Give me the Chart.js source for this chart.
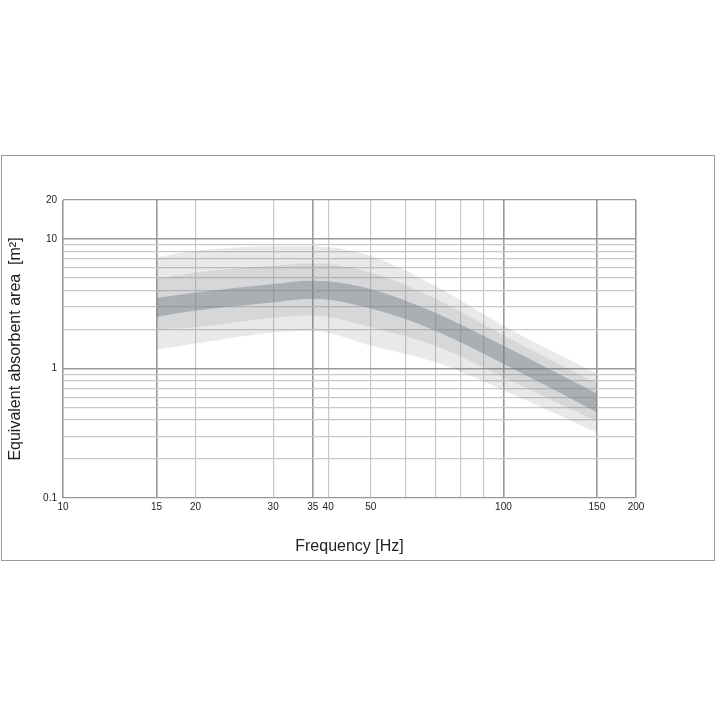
<!DOCTYPE html>
<html><head><meta charset="utf-8">
<script src="https://cdn.jsdelivr.net/npm/chart.js@4"></script>
<style>
body{margin:0;background:#fff;}
#box{position:absolute;left:1px;top:155px;width:712px;height:404px;border:1px solid #9a9a9a;}
</style></head><body>
<div id="box"><canvas id="c" width="712" height="404"></canvas></div>
<script>
// frequencies where the band is sampled (positions as drawn on the original)
const freqs = [16.3, 20, 30, 36.9, 50, 70, 100, 163];
const outerTop = [7.2, 8.1, 8.8, 8.8, 7.4, 4.35, 2.14, 0.91];
const outerBot = [1.4, 1.56, 1.9, 1.96, 1.5, 1.12, 0.68, 0.32];
const midTop = [4.9, 5.5, 6.2, 6.5, 5.5, 3.45, 1.8, 0.77];
const midBot = [2.0, 2.08, 2.47, 2.56, 2.08, 1.5, 0.86, 0.39];
const darkTop = [3.5, 3.86, 4.5, 4.76, 4.1, 2.7, 1.5, 0.64];
const darkBot = [2.5, 2.8, 3.23, 3.45, 2.9, 1.96, 1.09, 0.46];

const xTickValues = [10, 16.3, 20, 30, 36.9, 40, 50, 60, 70, 80, 90, 100, 163, 200];
const xTickLabels = ['10', '15', '20', '30', '35', '40', '50', '', '', '', '', '100', '150', '200'];
const yTickValues = [0.1, 0.2, 0.3, 0.4, 0.5, 0.6, 0.7, 0.8, 0.9, 1, 2, 3, 4, 5, 6, 7, 8, 9, 10, 20];
const yTickLabels = {0.1: '0.1', 1: '1', 10: '10', 20: '20'};

function pts(arr) { return arr.map((v, i) => ({x: freqs[i], y: v})); }
function band(data, fill, color, order) {
  return {data: pts(data), fill: fill, backgroundColor: color, borderWidth: 0,
    pointRadius: 0, cubicInterpolationMode: 'monotone', order: order};
}

const majorX = [10, 16.3, 36.9, 100, 163, 200];
new Chart(document.getElementById('c'), {
  type: 'line',
  data: {
    datasets: [
      band(outerTop, '+1', 'rgba(120,125,130,0.17)', 3),
      band(outerBot, false, 'transparent', 3),
      band(midTop, '+1', 'rgba(120,125,130,0.16)', 2),
      band(midBot, false, 'transparent', 2),
      band(darkTop, '+1', 'rgba(120,125,130,0.45)', 1),
      band(darkBot, false, 'transparent', 1)
    ]
  },
  options: {
    responsive: false, animation: false,
    layout: {padding: {top: 44, right: 78, left: 0, bottom: 0}},
    plugins: {legend: {display: false}, tooltip: {enabled: false}},
    scales: {
      x: {
        type: 'logarithmic', min: 10, max: 200,
        afterBuildTicks: s => { s.ticks = xTickValues.map(v => ({value: v})); },
        afterFit: s => { s.height = 62; },
        ticks: {autoSkip: false, maxRotation: 0, color: '#222', font: {family: 'Liberation Sans', size: 10},
          callback: (v, i) => xTickLabels[i]},
        grid: {color: c => majorX.includes(c.tick.value) ? '#999' : '#c8c8c8', lineWidth: c => majorX.includes(c.tick.value) ? 1.6 : 1.2, drawTicks: false},
        border: {display: false},
        title: {display: true, text: 'Frequency [Hz]', color: '#222', font: {family: 'Liberation Sans', size: 16}, padding: {top: 8}}
      },
      y: {
        type: 'logarithmic', min: 0.1, max: 20,
        afterBuildTicks: s => { s.ticks = yTickValues.map(v => ({value: v})); },
        afterFit: s => { s.width = 61; },
        ticks: {autoSkip: false, color: '#222', font: {family: 'Liberation Sans', size: 10}, padding: 6,
          callback: v => yTickLabels[v] || ''},
        grid: {color: c => [0.1, 1, 10, 20].includes(c.tick.value) ? '#999' : '#c8c8c8', lineWidth: c => [1, 10].includes(c.tick.value) ? 1.6 : 1.2, drawTicks: false},
        border: {display: false},
        title: {display: true, text: 'Equivalent absorbent area  [m²]', color: '#222', font: {family: 'Liberation Sans', size: 16}, padding: {bottom: 4}}
      }
    }
  }
});
</script>
</body></html>
